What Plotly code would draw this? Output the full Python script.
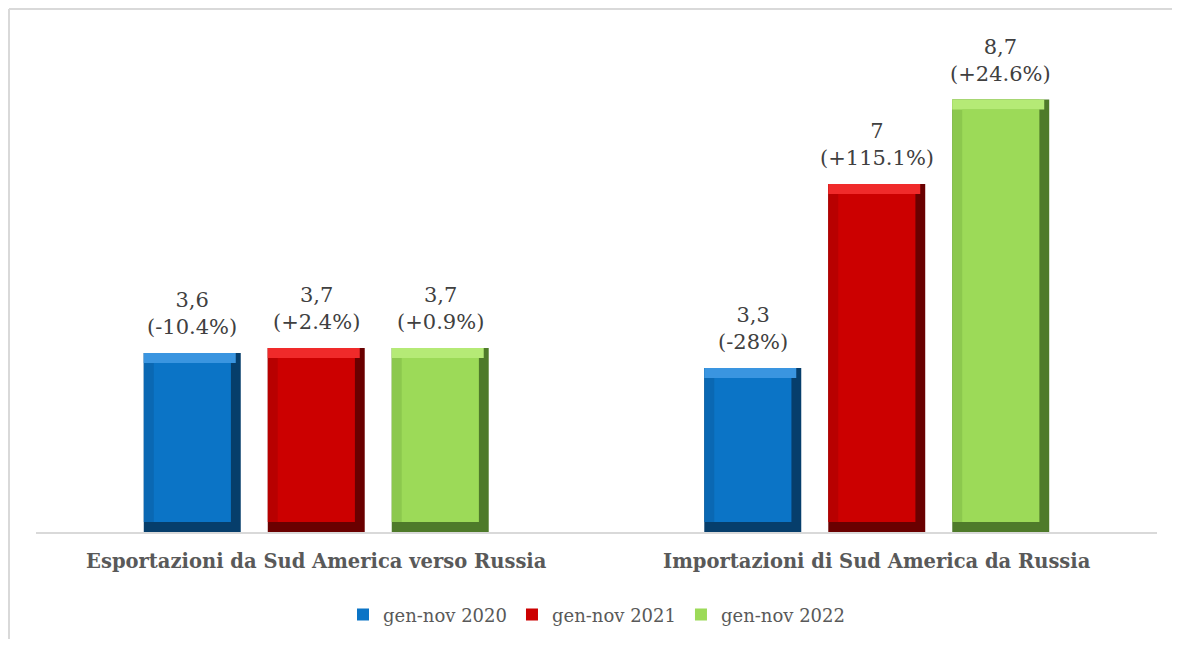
import plotly.graph_objects as go

categories = ["<b>Esportazioni da Sud America verso Russia</b>", "<b>Importazioni di Sud America da Russia</b>"]
series_names = ["gen-nov 2020", "gen-nov 2021", "gen-nov 2022"]
values_2020 = [3.6, 3.3]
values_2021 = [3.7, 7.0]
values_2022 = [3.7, 8.7]
labels_2020 = ["3,6<br>(-10.4%)", "3,3<br>(-28%)"]
labels_2021 = ["3,7<br>(+2.4%)", "7<br>(+115.1%)"]
labels_2022 = ["3,7<br>(+0.9%)", "8,7<br>(+24.6%)"]

# style: main, left band, top highlight, dark edge (right/bottom)
main_colors = ["#0B74C6", "#CC0000", "#9CDA58"]
left_colors = ["#0A68B3", "#B80000", "#8CC84E"]
top_colors = ["#3A95E0", "#F02A2A", "#B5EA76"]
dark_colors = ["#063E6B", "#6A0000", "#4E7A2A"]

FONT = "DejaVu Serif"
SLOT = 0.2212      # category units per bar slot
BAR_W = 0.173      # bar width in category units
PX_X = 0.0178      # ~10px bevel in category units
PX_Y = 0.2         # ~10px bevel in value units

fig = go.Figure()
all_vals = [values_2020, values_2021, values_2022]
all_labs = [labels_2020, labels_2021, labels_2022]
annotations = []
for i, name in enumerate(series_names):
    vals = all_vals[i]
    off = (i - 1) * SLOT - BAR_W / 2
    # dark full bar
    fig.add_trace(go.Bar(x=categories, y=vals, offset=off, width=BAR_W,
                         marker=dict(color=dark_colors[i], line=dict(width=0)),
                         showlegend=False, hoverinfo="skip"))
    # left band region
    fig.add_trace(go.Bar(x=categories, y=[v - PX_Y for v in vals], base=PX_Y,
                         offset=off, width=BAR_W - PX_X,
                         marker=dict(color=left_colors[i], line=dict(width=0)),
                         showlegend=False, hoverinfo="skip"))
    # top highlight band
    fig.add_trace(go.Bar(x=categories, y=[PX_Y] * len(vals), base=[v - PX_Y for v in vals],
                         offset=off, width=BAR_W - PX_X / 2,
                         marker=dict(color=top_colors[i], line=dict(width=0)),
                         showlegend=False, hoverinfo="skip"))
    # main face
    fig.add_trace(go.Bar(x=categories, y=[v - 2 * PX_Y for v in vals], base=PX_Y,
                         offset=off + PX_X, width=BAR_W - 2 * PX_X,
                         name=name,
                         marker=dict(color=main_colors[i], line=dict(width=0))))
    for j, cat in enumerate(categories):
        annotations.append(dict(
            x=j + (i - 1) * SLOT, y=vals[j], xref="x", yref="y",
            text=all_labs[i][j], showarrow=False, yanchor="bottom", yshift=12,
            font=dict(family=FONT, size=21, color="#404040"), align="center"))

BORDER_X = -0.0241
BORDER_Y = 1.0215
fig.update_layout(
    width=1164, height=631,
    margin=dict(l=28, r=15, t=12, b=107, autoexpand=False),
    paper_bgcolor="white", plot_bgcolor="white",
    barmode="overlay",
    font=dict(family=FONT, color="#595959"),
    legend=dict(orientation="h", x=0.5, xanchor="center", y=-0.1256, yanchor="top",
                font=dict(family=FONT, size=18, color="#595959"),
                itemwidth=30, tracegroupgap=0),
    xaxis=dict(showline=True, linecolor="#d9d9d9", linewidth=2, ticks="",
               tickfont=dict(family=FONT, size=19.5, color="#595959"),
               ticklabelstandoff=11, showgrid=False),
    yaxis=dict(range=[0, 10.3], visible=False, showgrid=False),
    annotations=annotations,
    shapes=[
        dict(type="line", xref="paper", yref="paper",
             x0=BORDER_X, x1=BORDER_X, y0=-0.4, y1=BORDER_Y,
             line=dict(color="#d9d9d9", width=2), layer="below"),
        dict(type="line", xref="paper", yref="paper",
             x0=BORDER_X, x1=1.1, y0=BORDER_Y, y1=BORDER_Y,
             line=dict(color="#d9d9d9", width=2), layer="below"),
    ],
)

fig.write_html("out.html")
